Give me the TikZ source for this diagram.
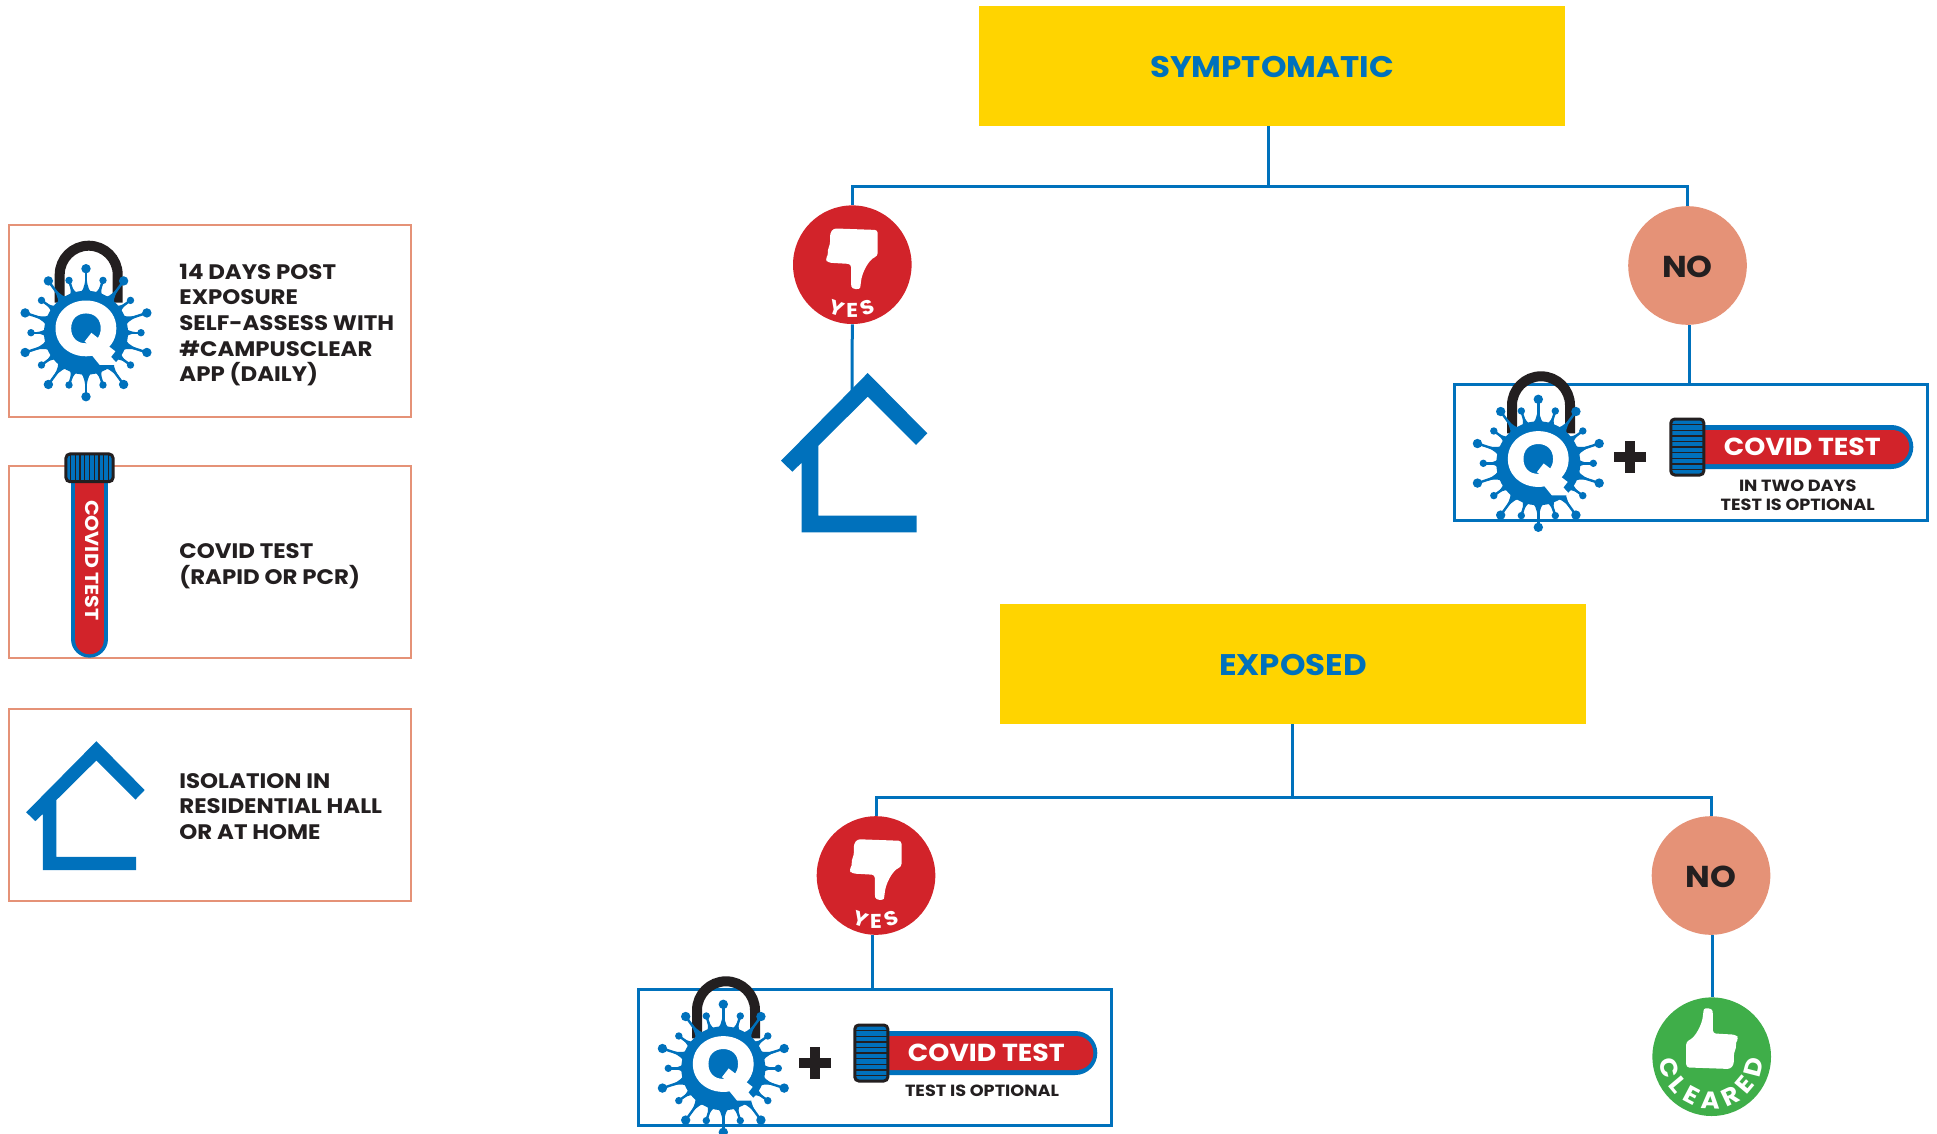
\documentclass[tikz,border=0pt]{standalone}
\usepackage{fontspec}
\setmainfont{Poppins}[FakeStretch=1.09]
\usetikzlibrary{decorations.text}

\definecolor{qblue}{RGB}{0,113,188}
\definecolor{qyellow}{RGB}{255,212,0}
\definecolor{qred}{RGB}{210,35,42}
\definecolor{qsalmon}{RGB}{229,146,119}
\definecolor{qgreen}{RGB}{63,174,73}
\definecolor{qdark}{RGB}{35,31,32}

\newcommand{\pxfont}[1]{\fontsize{#1}{#1}\selectfont\bfseries}

\tikzset{
    titlebox/.style={fill=qyellow, minimum width=293pt, minimum height=60pt, inner sep=0pt, text=qblue, text height=12pt, font=\pxfont{14.9}},
    legendbox/.style={draw=qsalmon, line width=1.3pt, minimum width=201pt, minimum height=96pt, inner sep=0pt},
    actionbox/.style={draw=qblue, line width=1.5pt, inner sep=0pt},
    legendtext/.style={anchor=west, align=left, inner sep=0pt, text=qdark, font=\fontsize{10.5}{12.85}\selectfont\bfseries},
    smalltext/.style={inner sep=0pt, text=qdark, font=\pxfont{8.1}},
    answer/.style={circle, minimum size=59.3pt, inner sep=0pt},
    nolabel/.style={answer, fill=qsalmon, text=qdark, text height=12pt, font=\pxfont{15.1}},
    link/.style={draw=qblue, line width=1.5pt},
    house/.pic={
        \fill[qblue] (0,0) -- (-86.7,-87.7) -- (-75.4,-98.7) -- (-66,-89.7) -- (-66,-159.3) -- (49,-159.3)
            -- (49,-142.7) -- (-49.4,-142.7) -- (-49.4,-72.7) -- (0,-23.7) -- (48.3,-72) -- (59.6,-60.3) -- cycle;
    },
    virus/.pic={
        \draw[qdark, line width=5pt] (-26.3,30) -- (-26.3,58) arc[start angle=180, end angle=0, radius=29] -- (31.7,30);
        \foreach \a in {90,126,...,414} {
            \fill[qblue] ({\a-8}:40) .. controls ({\a-1.5}:45) and ({\a-1}:50) .. (\a:63) .. controls ({\a+1}:50) and ({\a+1.5}:45) .. ({\a+8}:40) -- cycle;
            \draw[qblue, line width=1.2pt] (\a:40) -- (\a:64);
            \fill[qblue] (\a:64) circle[radius=4.7];
        }
        \foreach \a in {72,108,...,396} {
            \fill[qblue] ({\a-6}:40) .. controls ({\a-1.5}:44) and ({\a-1}:47) .. (\a:54) .. controls ({\a+1}:47) and ({\a+1.5}:44) .. ({\a+6}:40) -- cycle;
            \draw[qblue, line width=1.2pt] (\a:40) -- (\a:55);
            \fill[qblue] (\a:55) circle[radius=3.7];
        }
        \fill[qblue] (0,0) circle[radius=42];
        \node (-q) [inner sep=0pt, text=white, font=\pxfont{38}\addfontfeature{FakeBold=1.5}] at (0,0) {Q};
        \draw[white, line width=5.5pt] (2,-4.5) -- (26,-23);
    },
    pics/tube/.style n args={3}{code={
        \fill[qblue] (30,22) -- (222,22) arc[start angle=90, end angle=-90, radius=22] -- (30,-22) -- cycle;
        \fill[qred] (30,17) -- (223,17) arc[start angle=90, end angle=-90, radius=17] -- (30,-17) -- cycle;
        \draw[qdark, fill=qblue, line width=1.5pt, rounded corners=2pt] (1.5,-28) rectangle (34.5,28);
        \foreach \y in {-22.4,-16.8,...,22.5} {
            \draw[qdark, line width=.7pt] (1.5,\y) -- (34.5,\y);
        }
        \node (-label) [transform shape, inner sep=0pt, text=white, font=\pxfont{#1}] at (#2,#3) {COVID TEST};
    }},
    plus/.pic={
        \fill[qdark] (-16,-5) rectangle (16,5);
        \fill[qdark] (-5,-16) rectangle (5,16);
    },
    thumbdown/.pic={
        \fill[white, rounded corners=1.5pt] (26,34.7) -- (26,8.7) .. controls (17,5) and (10,-8) .. (9,-20.3)
            .. controls (8,-25) and (0,-25) .. (-0.7,-18.7) -- (-0.7,0.7) -- (-23.3,2) -- (-26.7,5.3) -- (-23.3,9.7)
            -- (-24.3,14.7) -- (-21.7,19.7) -- (-21.7,31.3) -- (-18.3,36.3) -- cycle;
    },
}

\begin{document}
\begin{tikzpicture}[x=.5pt, y=.5pt]
    \useasboundingbox (0,0) rectangle (1937,-1134);

    \node (symptomatic) [titlebox] at (1272,-66) {SYMPTOMATIC};
    \node (exposed) [titlebox] at (1293,-664) {EXPOSED};

    \node (legendvirus) [legendbox] at (210,-321) {};
    \node (legendtest) [legendbox] at (210,-562) {};
    \node (legendhome) [legendbox] at (210,-805) {};

    \node (symbox) [actionbox, minimum width=236.5pt, minimum height=68.3pt] at (1690.5,-452.4) {};
    \node (expbox) [actionbox, minimum width=236.7pt, minimum height=68.2pt] at (875,-1057.5) {};

    \node (symyes) [answer, fill=qred] at (852.3,-264.7) {};
    \node (symno) [nolabel] at (1687.5,-265.5) {NO};
    \node (expyes) [answer, fill=qred] at (876,-875.5) {};
    \node (expno) [nolabel] at (1711,-875.5) {NO};
    \node (cleared) [answer, fill=qgreen] at (1711.7,-1056.7) {};

    \coordinate (symjoin) at (1268.5,-187);
    \coordinate (expjoin) at (1292,-797);
    \coordinate (symhouse) at (852,-395);

    \draw[link] (symjoin |- symptomatic.south) -- (symjoin);
    \draw[link] (symyes.north) -- (symyes.north |- symjoin) -- (symno.north |- symjoin) -- (symno.north);
    \draw[link] (symyes.south) -- (symhouse);
    \draw[link] (symno.south -| 1689,0) -- (1689,0 |- symbox.north);
    \draw[link] (expjoin |- exposed.south) -- (expjoin);
    \draw[link] (expyes.north) -- (expyes.north |- expjoin) -- (expno.north |- expjoin) -- (expno.north);
    \draw[link] (expyes.south -| 872.3,0) -- (872.3,0 |- expbox.north);
    \draw[link] (expno.south -| 1712.7,0) -- (1712.7,0 |- cleared.north);

    \foreach \name/\cx/\cy in {symyes/851.7/-264.7, expyes/875.5/-875.5} {
        \pic at (\cx,\cy) {thumbdown};
        \path[decorate, decoration={text along path, text align=fit to path,
            text={|\pxfont{10}\color{white}|YES}}] (\cx,\cy) ++(243:53) arc[start angle=243, end angle=297, radius=53];
    }
    \pic[rotate=180] at (1712.2,-1032.7) {thumbdown};
    \path[decorate, decoration={text along path, text align=fit to path,
        text={|\pxfont{12}\color{white}|CLEARED}}] (1711.7,-1056.7) ++(184:52) arc[start angle=184, end angle=356, radius=52];

    \pic at (867.7,-373) {house};
    \pic[scale=.81] at (96.4,-741.2) {house};

    \pic (legendq) at (86,-332.7) {virus};
    \pic (symq) at (1538.3,-463.3) {virus};
    \pic (expq) at (723.3,-1068.3) {virus};

    \pic (legendtube) [scale=.84, rotate=-90] at (89.5,-452.7) {tube={11.2}{128}{3}};
    \pic (symtube) at (1669.3,-447) {tube={12.3}{133}{0}};
    \pic (exptube) at (853.3,-1053) {tube={12.3}{133}{0}};

    \pic at (1630.3,-457.3) {plus};
    \pic at (815,-1062.7) {plus};

    \node (symtwo) [smalltext] at (1797.7,-486) {IN TWO DAYS};
    \node (symoptional) [smalltext] at (1797.7,-504.7) {TEST IS OPTIONAL};
    \node (expoptional) [smalltext] at (982,-1091) {TEST IS OPTIONAL};

    \node (legendvirustext) [legendtext] at (179,-325) {14 DAYS POST\\EXPOSURE\\SELF-ASSESS WITH\\\#CAMPUSCLEAR\\APP (DAILY)};
    \node (legendtesttext) [legendtext] at (179,-566.5) {COVID TEST\\(RAPID OR PCR)};
    \node (legendhometext) [legendtext] at (179,-806.5) {ISOLATION IN\\RESIDENTIAL HALL\\OR AT HOME};
\end{tikzpicture}
\end{document}
